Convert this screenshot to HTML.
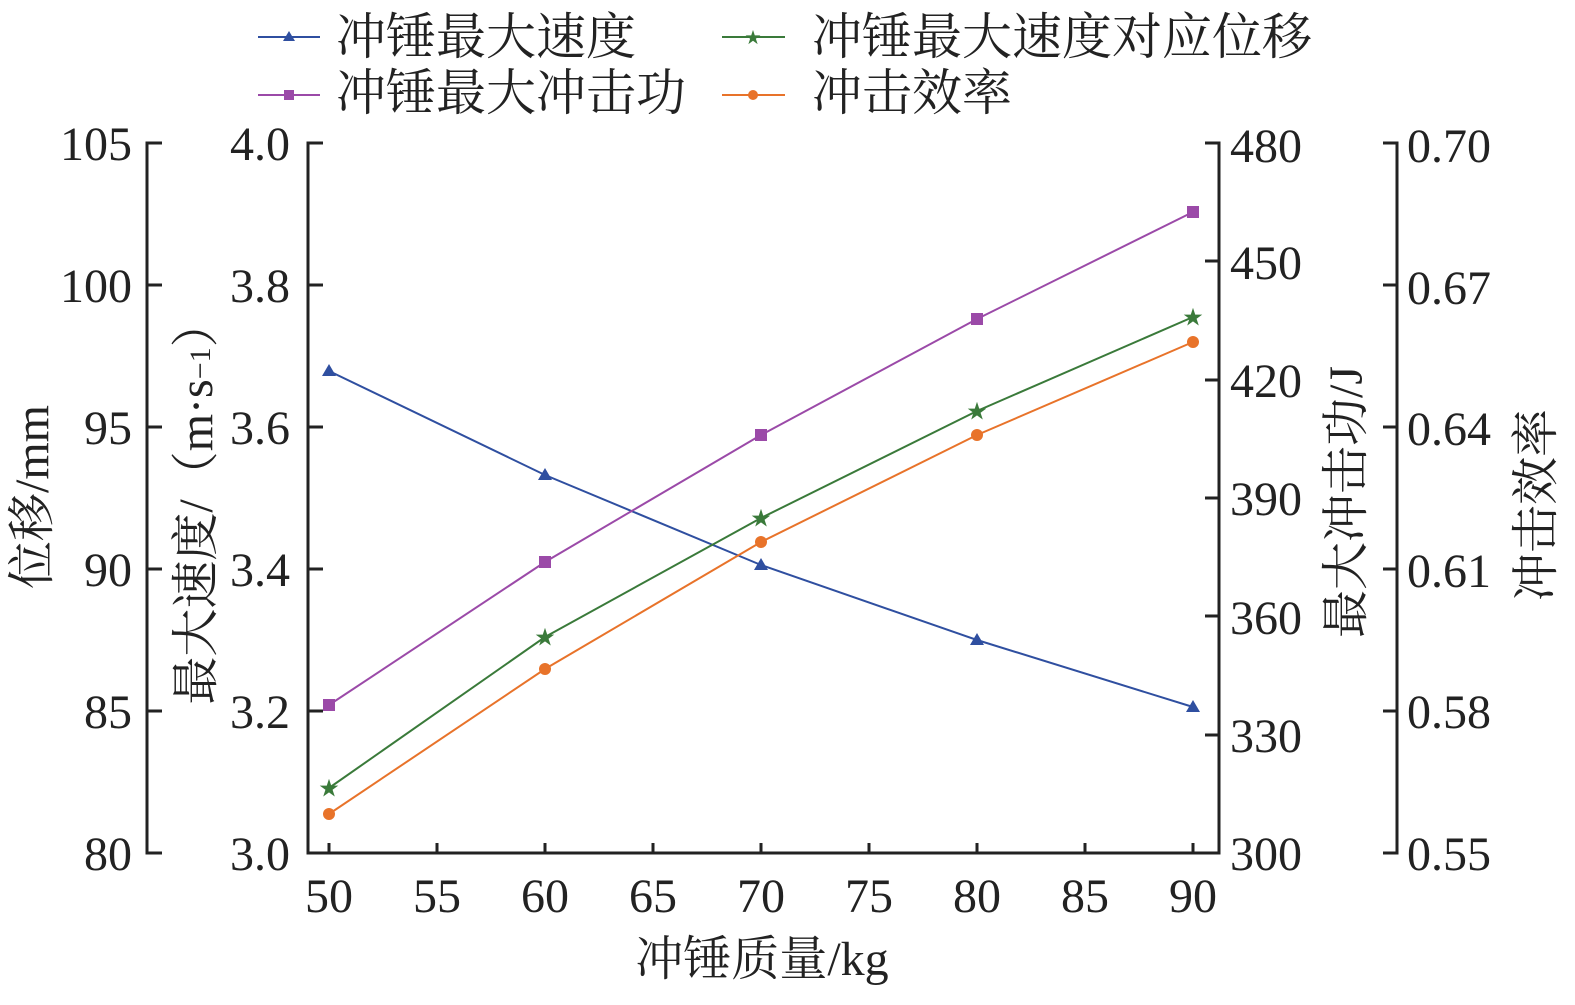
<!DOCTYPE html>
<html><head><meta charset="utf-8"><style>body{margin:0;background:#fff}
svg text{font-family:"Liberation Serif","Times New Roman","Noto Serif CJK SC",serif;}</style></head><body>
<svg width="1575" height="1000" xmlns="http://www.w3.org/2000/svg" font-size="48" fill="#222">
<rect width="1575" height="1000" fill="#fff"/>
<g stroke="#222" stroke-width="3" fill="none">
<path d="M162,143H147V853H162 M147,285H162 M147,427H162 M147,569H162 M147,711H162"/>
<path d="M323,143H308V853H1219V143H1205 M308,285H323 M308,427H323 M308,569H323 M308,711H323"/>
<path d="M1219,261H1205 M1219,380H1205 M1219,498H1205 M1219,616H1205 M1219,735H1205"/>
<path d="M1383,143H1397V853H1383 M1397,285H1383 M1397,427H1383 M1397,569H1383 M1397,711H1383"/>
<path d="M329,853v-10 M437,853v-10 M545,853v-10 M653,853v-10 M761,853v-10 M869,853v-10 M977,853v-10 M1085,853v-10 M1193,853v-10"/>
</g>
<g text-anchor="end">
<text x="132" y="160">105</text><text x="132" y="302">100</text><text x="132" y="444">95</text><text x="132" y="586">90</text><text x="132" y="728">85</text><text x="132" y="870">80</text>
<text x="290" y="160">4.0</text><text x="290" y="302">3.8</text><text x="290" y="444">3.6</text><text x="290" y="586">3.4</text><text x="290" y="728">3.2</text><text x="290" y="870">3.0</text>
</g>
<g>
<text x="1230" y="162">480</text><text x="1230" y="279">450</text><text x="1230" y="397">420</text><text x="1230" y="515">390</text><text x="1230" y="634">360</text><text x="1230" y="752">330</text><text x="1230" y="870">300</text>
<text x="1407" y="162">0.70</text><text x="1407" y="304">0.67</text><text x="1407" y="445">0.64</text><text x="1407" y="587">0.61</text><text x="1407" y="728">0.58</text><text x="1407" y="870">0.55</text>
</g>
<g text-anchor="middle">
<text x="329" y="912">50</text><text x="437" y="912">55</text><text x="545" y="912">60</text><text x="653" y="912">65</text><text x="761" y="912">70</text><text x="869" y="912">75</text><text x="977" y="912">80</text><text x="1085" y="912">85</text><text x="1193" y="912">90</text>
<text x="762" y="975">冲锤质量/kg</text>
<text transform="translate(48,497) rotate(-90)">位移/mm</text>
<text transform="translate(212,502) rotate(-90)">最大速度/（m·s<tspan font-size="30" dy="-2">−1</tspan><tspan dy="2">）</tspan></text>
<text transform="translate(1362,502) rotate(-90)">最大冲击功/J</text>
<text transform="translate(1552,505) rotate(-90)">冲击效率</text>
</g>
<g stroke-width="2" fill="none">
<polyline stroke="#2f4fa0" points="329,371 545,475 761,565 977,640 1193,707"/>
<polyline stroke="#9b4aa8" points="329,705 545,562 761,435 977,319 1193,212"/>
<polyline stroke="#3a7a3a" points="329,788 545,637 761,518 977,411 1193,317"/>
<polyline stroke="#e8732a" points="329,814 545,669 761,542 977,435 1193,342"/>
<line x1="258" y1="37" x2="320" y2="37" stroke="#2f4fa0"/>
<line x1="258" y1="95" x2="320" y2="95" stroke="#9b4aa8"/>
<line x1="722" y1="37" x2="785" y2="37" stroke="#3a7a3a"/>
<line x1="722" y1="95" x2="785" y2="95" stroke="#e8732a"/>
</g>
<g fill="#2f4fa0"><path d="M329,364l7,12h-14z M545,468l7,12h-14z M761,558l7,12h-14z M977,633l7,12h-14z M1193,700l7,12h-14z M289,31l6,10h-12z"/></g>
<g fill="#9b4aa8"><rect x="323" y="699" width="12" height="12"/><rect x="539" y="556" width="12" height="12"/><rect x="755" y="429" width="12" height="12"/><rect x="971" y="313" width="12" height="12"/><rect x="1187" y="206" width="12" height="12"/><rect x="284" y="90" width="10" height="10"/></g>
<g fill="#3a7a3a" font-size="20" text-anchor="middle"><text x="329" y="795">★</text><text x="545" y="644">★</text><text x="761" y="525">★</text><text x="977" y="418">★</text><text x="1193" y="324">★</text><text x="753" y="43" font-size="16">★</text></g>
<g fill="#e8732a"><circle cx="329" cy="814" r="6"/><circle cx="545" cy="669" r="6"/><circle cx="761" cy="542" r="6"/><circle cx="977" cy="435" r="6"/><circle cx="1193" cy="342" r="6"/><circle cx="753" cy="95" r="5"/></g>
<g font-size="50">
<text x="336" y="54">冲锤最大速度</text>
<text x="336" y="110">冲锤最大冲击功</text>
<text x="812" y="54">冲锤最大速度对应位移</text>
<text x="812" y="110">冲击效率</text>
</g>
</svg>
</body></html>
